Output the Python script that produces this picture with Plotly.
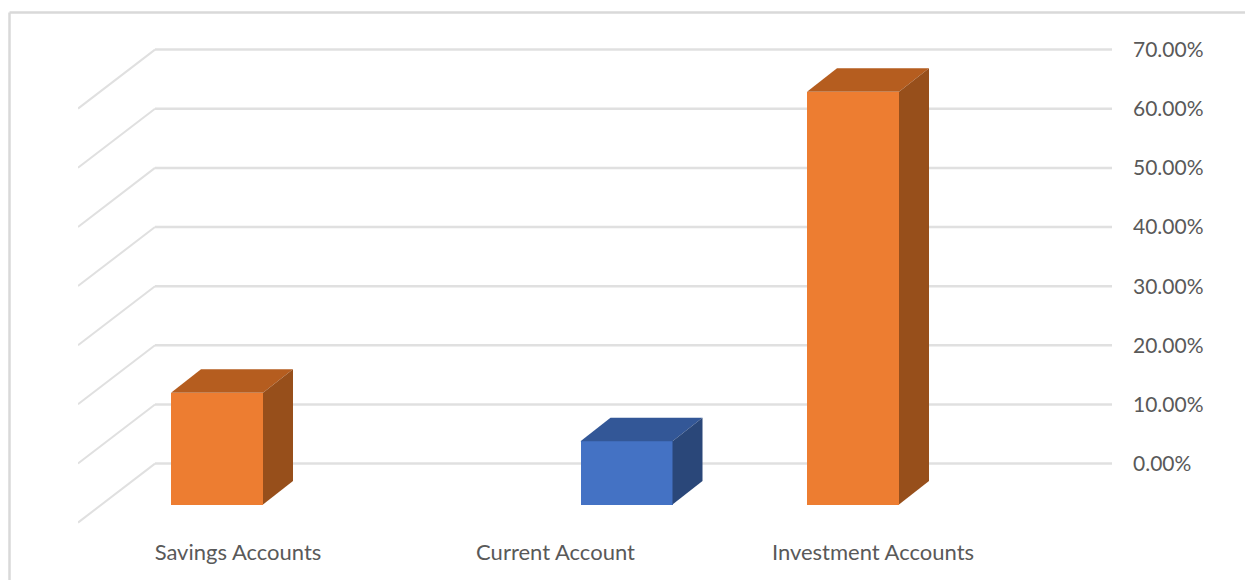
import plotly.graph_objects as go

# ---- data ----
categories = ["Savings Accounts", "Current Account", "Investment Accounts"]
values = [18.9, 10.7, 69.8]
tick_values = [0, 10, 20, 30, 40, 50, 60, 70]
tick_labels = ["0.00%", "10.00%", "20.00%", "30.00%", "40.00%", "50.00%", "60.00%", "70.00%"]
label_positions = [238, 555.5, 873]
bar_centers = [217, 626.5, 853]
front_colors = ["#ED7D31", "#4472C4", "#ED7D31"]
top_colors = ["#B55D1F", "#335797", "#B55D1F"]
side_colors = ["#974F1B", "#2A4779", "#974F1B"]

# ---- layout constants (pixels on the 1253x580 page; the page body adds an 8 px margin) ----
BODY = 8
W, H = 1253, 580
L, R, T, B = 78, 1112, 40, 530
Y0, PX = 463.6, 5.914          # pixel of value 0, pixels per 1 %
BAR_W = 92
DX, DY = 30, 23.5 / PX         # bar depth offset
BASE = -(504.6 - Y0) / PX      # front plane of the bars
WALL_DX, WALL_DY = 77, 59 / PX # floor depth
y_low = -(B - Y0) / PX
y_high = (Y0 - T) / PX

fig = go.Figure()

# front faces
fig.add_trace(go.Bar(
    x=bar_centers, y=values, base=BASE, width=BAR_W,
    marker=dict(color=front_colors, line=dict(width=0)),
    hoverinfo="skip", showlegend=False,
))

# top and side faces derived from the values
for c, v, tc, sc in zip(bar_centers, values, top_colors, side_colors):
    xl, xr, yb, yt = c - BAR_W / 2, c + BAR_W / 2, BASE, BASE + v
    fig.add_trace(go.Scatter(
        x=[xl, xr, xr + DX, xl + DX, xl], y=[yt, yt, yt + DY, yt + DY, yt],
        mode="lines", fill="toself", fillcolor=tc, line=dict(width=0),
        hoverinfo="skip", showlegend=False,
    ))
    fig.add_trace(go.Scatter(
        x=[xr, xr + DX, xr + DX, xr, xr], y=[yt, yt + DY, yb + DY, yb, yt],
        mode="lines", fill="toself", fillcolor=sc, line=dict(width=0),
        hoverinfo="skip", showlegend=False,
    ))

# wall and side-wall gridlines
shapes = []
wall_x = L + WALL_DX
for t in tick_values:
    shapes.append(dict(type="line", layer="below", xref="x", yref="y", x0=wall_x, x1=R, y0=t, y1=t,
                       line=dict(color="#E0E0E0", width=2.5)))
    shapes.append(dict(type="line", layer="below", xref="x", yref="y", x0=L, x1=wall_x, y0=t - WALL_DY, y1=t,
                       line=dict(color="#E0E0E0", width=2)))

# outer chart border: top and left edges only
def px(x):
    return (x - L) / (R - L)
def py(y):
    return (B - y) / (B - T)
border = dict(color="#D9D9D9", width=2.5)
shapes.append(dict(type="line", layer="below", xref="paper", yref="paper",
                   x0=px(9.5), x1=px(W), y0=py(12.5), y1=py(12.5), line=border))
shapes.append(dict(type="line", layer="below", xref="paper", yref="paper",
                   x0=px(9.5), x1=px(9.5), y0=py(12.5), y1=py(H), line=border))

fig.update_layout(
    width=W - BODY, height=H - BODY,
    margin=dict(l=L - BODY, r=W - R, t=T - BODY, b=H - B, pad=0),
    paper_bgcolor="white", plot_bgcolor="rgba(0,0,0,0)",
    font=dict(family="Lato, Carlito, Calibri, sans-serif", color="#595959", size=20),
    shapes=shapes, showlegend=False, bargap=0,
    xaxis=dict(range=[L, R], tickmode="array", tickvals=label_positions, ticktext=categories,
               showgrid=False, zeroline=False, showline=False, ticks="", ticklabelstandoff=7,
               tickfont=dict(size=22)),
    yaxis=dict(range=[y_low, y_high], side="right", tickmode="array", tickvals=tick_values,
               ticktext=tick_labels, showgrid=False, zeroline=False, showline=False, ticks="",
               ticklabelstandoff=20, tickfont=dict(size=21)),
)

fig.write_html("out.html", config=dict(displayModeBar=False))
